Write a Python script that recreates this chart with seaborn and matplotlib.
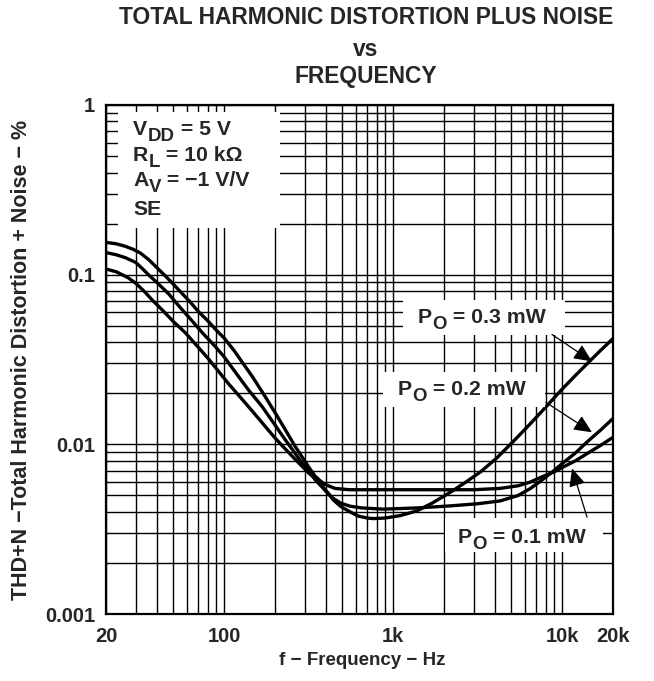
import numpy as np
import pandas as pd
import matplotlib
matplotlib.use("Agg")
import matplotlib.pyplot as plt
from matplotlib.ticker import LogLocator, NullFormatter, FixedLocator
from matplotlib.patches import Rectangle
import seaborn as sns

# ---------------- data ----------------
freq_01 = [20, 23, 26, 29, 32, 36, 40, 45, 50, 56, 63, 70, 80, 90, 100, 115, 130, 146,
           170, 200, 230, 262, 290, 315, 345, 370, 395, 453, 550, 700, 1000, 2000, 3000,
           4300, 5500, 6500, 7500, 9000, 10000, 12000, 14000, 17000, 20000]
thd_01 = [0.155, 0.152, 0.147, 0.141, 0.134, 0.122, 0.110, 0.098, 0.088, 0.078, 0.069,
          0.061, 0.0535, 0.047, 0.0423, 0.0355, 0.0298, 0.0253, 0.020, 0.0154, 0.0122,
          0.0098, 0.0084, 0.0074, 0.0065, 0.0061, 0.0058, 0.0055, 0.0054, 0.0054, 0.0054,
          0.0054, 0.0054, 0.0055, 0.0057, 0.0060, 0.0064, 0.0069, 0.0073, 0.0080, 0.0088,
          0.0099, 0.011]

freq_02 = [20, 23, 26, 30, 33, 36, 40, 47, 55, 64, 75, 88, 100, 121, 140, 167, 200, 229,
           260, 288, 320, 345, 380, 413, 443, 490, 556, 650, 875, 1400, 2200, 3200, 4300,
           5500, 6500, 7500, 8800, 10000, 12000, 14000, 17000, 20000]
thd_02 = [0.135, 0.131, 0.126, 0.118, 0.108, 0.099, 0.090, 0.077, 0.064, 0.054, 0.045,
          0.038, 0.0328, 0.0253, 0.0208, 0.0168, 0.0130, 0.0107, 0.0090, 0.0078, 0.0069,
          0.0062, 0.0056, 0.0051, 0.0048, 0.0045, 0.00432, 0.00422, 0.00415, 0.00422,
          0.00434, 0.00447, 0.00464, 0.0050, 0.0055, 0.0061, 0.0069, 0.0077, 0.0089,
          0.0103, 0.0122, 0.0142]

freq_03 = [20, 23, 27, 30, 34, 38, 43, 50, 59, 70, 81, 93, 106, 125, 146, 170, 200, 230,
           262, 290, 315, 345, 378, 410, 443, 490, 556, 620, 700, 764, 900, 1100, 1380,
           1700, 2170, 2700, 3300, 4100, 5140, 6000, 6750, 8100, 9710, 12000, 14600,
           17000, 20000]
thd_03 = [0.108, 0.104, 0.096, 0.089, 0.079, 0.070, 0.062, 0.053, 0.0454, 0.0375, 0.0318,
          0.0268, 0.0228, 0.0189, 0.0158, 0.0132, 0.0109, 0.0094, 0.0082, 0.0074, 0.0068,
          0.0063, 0.0057, 0.0052, 0.0047, 0.0043, 0.0040, 0.00378, 0.00368, 0.00365,
          0.00368, 0.0038, 0.00405, 0.0045, 0.0052, 0.0060, 0.0069, 0.0083, 0.0104,
          0.0122, 0.0138, 0.0168, 0.0205, 0.0255, 0.031, 0.036, 0.042]

series_names = ["0.1 mW", "0.2 mW", "0.3 mW"]

x_tick_values = [20, 100, 1000, 10000, 20000]
x_tick_labels = ["20", "100", "1k", "10k", "20k"]
y_tick_values = [0.001, 0.01, 0.1, 1]
y_tick_labels = ["0.001", "0.01", "0.1", "1"]

title_lines = ["TOTAL HARMONIC DISTORTION PLUS NOISE", "vs", "FREQUENCY"]
x_label = "f \u2212 Frequency \u2212 Hz"
y_label = "THD+N \u2212Total Harmonic Distortion + Noise \u2212 %"

# (main, subscript, rest)
cond_parts = [("V", "DD", " = 5 V"), ("R", "L", " = 10 k\u03a9"),
              ("A", "V", " = \u22121 V/V"), ("SE", "", "")]
po_parts = [("P", "O", " = 0.3 mW"), ("P", "O", " = 0.2 mW"), ("P", "O", " = 0.1 mW")]

# ---------------- build table ----------------
df = pd.concat([
    pd.DataFrame({"freq": freq_01, "thd": thd_01, "po": series_names[0]}),
    pd.DataFrame({"freq": freq_02, "thd": thd_02, "po": series_names[1]}),
    pd.DataFrame({"freq": freq_03, "thd": thd_03, "po": series_names[2]}),
], ignore_index=True)

sns.set_theme(style="white")
plt.rcParams["font.family"] = ["Liberation Sans", "DejaVu Sans"]
plt.rcParams["font.weight"] = "bold"

W, H = 654, 681
fig = plt.figure(figsize=(W / 100, H / 100), dpi=100)
fig.patch.set_facecolor("white")
ax = fig.add_axes([106 / W, 1 - 614 / H, 507 / W, 509 / H])
ax.set_facecolor("white")


def pa(px, py):
    """figure pixel (top-left origin) -> axes fraction"""
    return (px - 106) / 507, (614 - py) / 509


ax.set_xscale("log")
ax.set_yscale("log")
ax.set_xlim(20, 20000)
ax.set_ylim(0.001, 1)

sns.lineplot(data=df, x="freq", y="thd", hue="po", palette=["black"] * 3,
             estimator=None, legend=False, linewidth=2.4, ax=ax, zorder=5)

# ticks and grid
ax.xaxis.set_major_locator(FixedLocator(x_tick_values))
ax.set_xticklabels(x_tick_labels)
ax.xaxis.set_minor_locator(LogLocator(base=10, subs=np.arange(2, 10), numticks=100))
ax.xaxis.set_minor_formatter(NullFormatter())
ax.yaxis.set_major_locator(FixedLocator(y_tick_values))
ax.set_yticklabels(y_tick_labels)
ax.yaxis.set_minor_locator(LogLocator(base=10, subs=np.arange(2, 10), numticks=100))
ax.yaxis.set_minor_formatter(NullFormatter())
ax.tick_params(which="both", length=0)
ax.tick_params(axis="x", pad=9, labelsize=14.5)
ax.tick_params(axis="y", pad=8, labelsize=14.5)
for lab in ax.get_xticklabels() + ax.get_yticklabels():
    lab.set_fontweight("bold")

ax.grid(which="both", color="black", linewidth=1.0)
ax.set_axisbelow(True)
for s in ax.spines.values():
    s.set_color("black")
    s.set_linewidth(1.6)
    s.set_zorder(6)

ax.set_xlabel(x_label, fontsize=13.5, fontweight="bold")
ax.set_ylabel(y_label, fontsize=15.5, fontweight="bold")
ax.xaxis.set_label_coords(0.505, -0.074)
ax.yaxis.set_label_coords(-0.146, 0.50)

# title
title_y = [1 - 17 / H, 1 - 49 / H, 1 - 77 / H]
for txt, yy in zip(title_lines, title_y):
    fig.text(366 / W, yy, txt, ha="center", va="center", fontsize=16.4, fontweight="bold")


def rich(x_ax, y_ax, parts, size, zorder=9):
    main, sub, rest = parts
    t0 = ax.text(x_ax, y_ax, main, transform=ax.transAxes, ha="left", va="baseline",
                 fontsize=size, fontweight="bold", zorder=zorder)
    if not sub:
        return
    t1 = ax.annotate(sub, xy=(1, 0), xycoords=t0, xytext=(0.3, -4.0),
                     textcoords="offset points", ha="left", va="bottom",
                     fontsize=size * 0.88, fontweight="bold", zorder=zorder)
    ax.annotate(rest, xy=(1, 0), xycoords=(t1, t0), ha="left", va="bottom",
                fontsize=size, fontweight="bold", zorder=zorder)


# conditions box
bx0, by0 = pa(118, 228)
bx1, by1 = pa(280, 112)
ax.add_patch(Rectangle((bx0, by0), bx1 - bx0, by1 - by0, transform=ax.transAxes,
                       facecolor="white", edgecolor="none", zorder=3))
cond_base = [135, 161, 186, 215]
for parts, yb in zip(cond_parts, cond_base):
    x_a, y_a = pa(133, yb)
    rich(x_a, y_a, parts, 15.3)

# power labels with boxes and arrows
po_boxes = [(403, 300, 565, 335), (383, 372, 545, 407), (445, 518, 603, 552)]
po_text_pos = [(418, 323), (398, 395), (458, 543)]
po_arrows = [((8710, 0.0444), (15020, 0.0308)),
             ((8020, 0.01766), (15020, 0.01177)),
             ((14040, 0.00372), (11440, 0.00722))]
for parts, box, tpos, (tail, tip) in zip(po_parts, po_boxes, po_text_pos, po_arrows):
    ax.annotate("", xy=tip, xytext=tail, zorder=8,
                arrowprops=dict(arrowstyle="-|>,head_length=0.55,head_width=0.25",
                                color="black", lw=0.9, shrinkA=0, shrinkB=0,
                                mutation_scale=20))
    x0, y0 = pa(box[0], box[3])
    x1, y1 = pa(box[2], box[1])
    ax.add_patch(Rectangle((x0, y0), x1 - x0, y1 - y0, transform=ax.transAxes,
                           facecolor="white", edgecolor="none", zorder=7))
    x_a, y_a = pa(*tpos)
    rich(x_a, y_a, parts, 15.3)

fig.savefig("out.png", dpi=100, facecolor="white")
